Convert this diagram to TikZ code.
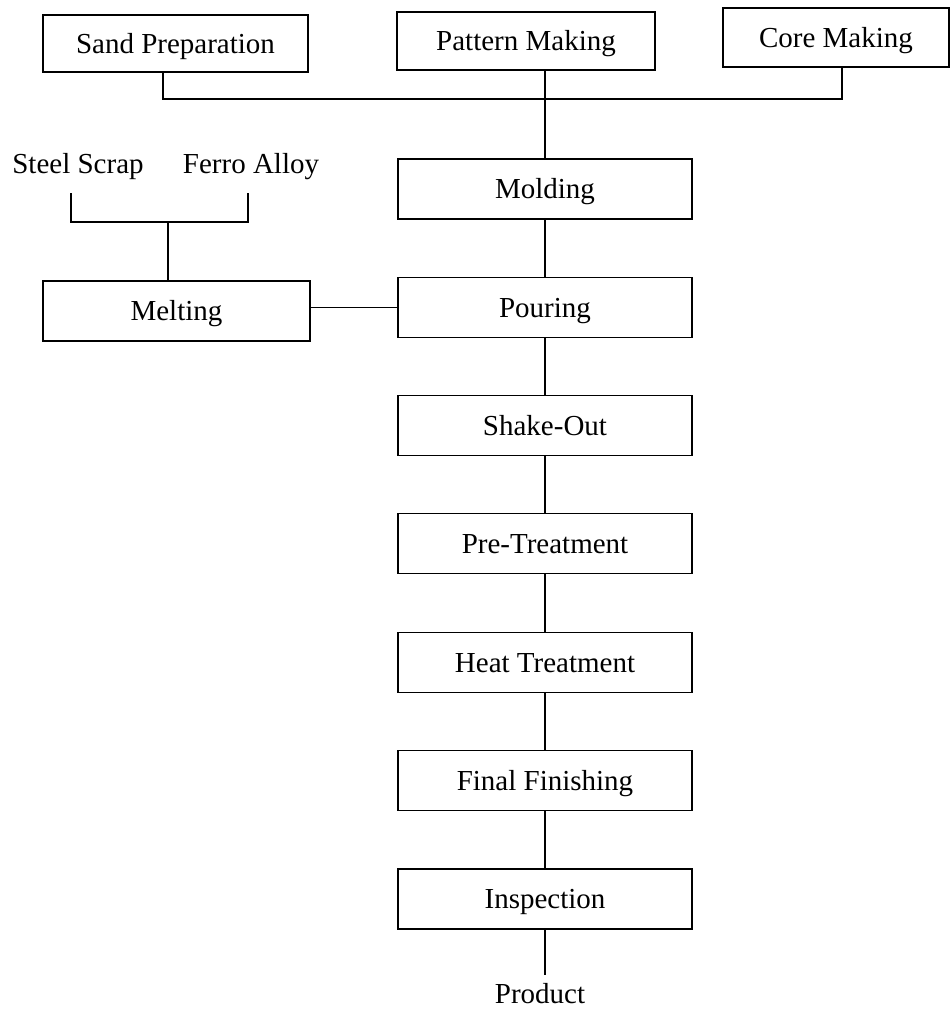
\documentclass[tikz,border=0pt]{standalone}
\usepackage{fontspec}
\setmainfont{Liberation Serif}
\begin{document}
\begin{tikzpicture}[x=1pt,y=-1pt]
\tikzset{
  txt/.style={inner sep=0pt, font=\fontsize{29}{34}\selectfont, text height=19pt, text depth=0pt},
  box/.style={txt, draw, line width=1.3pt},
  mainbox/.style={box, minimum width=294pt, minimum height=60pt},
  conn/.style={line width=1.3pt}
}
\useasboundingbox (0,0) rectangle (952,1012);
% top row
\node[box, minimum width=265pt, minimum height=57pt] (sand) at (175.5,43.5) {Sand Preparation};
\node[box, minimum width=258pt, minimum height=58pt] (pattern) at (526,41) {Pattern Making};
\node[box, minimum width=226pt, minimum height=59pt] (core) at (836,37.5) {Core Making};
% raw materials
\node[txt] (steel) at (78,163.5) {Steel Scrap};
\node[txt] (ferro) at (251,163.5) {Ferro Alloy};
\node[box, minimum width=267pt, minimum height=60pt] (melting) at (176.5,311) {Melting};
% main column
\node[mainbox] (molding) at (545,189) {Molding};
\node[mainbox] (pouring) at (545,307.5) {Pouring};
\node[mainbox] (shake) at (545,425.5) {Shake-Out};
\node[mainbox] (pre) at (545,543.5) {Pre-Treatment};
\node[mainbox] (heat) at (545,662.5) {Heat Treatment};
\node[mainbox] (final) at (545,780.5) {Final Finishing};
\node[mainbox] (insp) at (545,899) {Inspection};
\node[txt] (product) at (540,994) {Product};
% collector line at the top
\coordinate (hl) at (163,99);
\coordinate (hr) at (842,99);
\coordinate (hm) at (545,99);
\draw[conn] (sand.south -| hl) -- (hl) -- (hr) -- (core.south -| hr);
\draw[conn] (pattern.south -| hm) -- (molding.north);
% raw material bracket
\coordinate (bl) at (71,193);
\coordinate (br) at (248,193);
\coordinate (bm) at (168,222);
\draw[conn] (bl) -- (bl |- bm) -- (br |- bm) -- (br);
\draw[conn] (bm) -- (melting.north -| bm);
\draw[conn] (pouring.west -| melting.east) -- (pouring.west);
% main chain
\draw[conn] (molding) -- (pouring);
\draw[conn] (pouring) -- (shake);
\draw[conn] (shake) -- (pre);
\draw[conn] (pre) -- (heat);
\draw[conn] (heat) -- (final);
\draw[conn] (final) -- (insp);
\coordinate (pend) at (545,975);
\draw[conn] (insp.south) -- (pend);
\end{tikzpicture}
\end{document}
